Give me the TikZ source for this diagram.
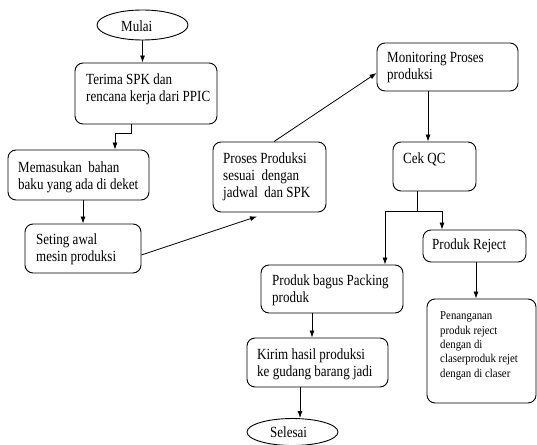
\documentclass[tikz,border=0pt]{standalone}
\usepackage{fontspec}
\setmainfont{Liberation Serif}[FakeStretch=0.84]
\newfontfamily\smallserif{Liberation Serif}[FakeStretch=0.9]
\usetikzlibrary{arrows.meta,calc,shapes.geometric}
\tikzset{
  box/.style={draw, line width=0.9pt, rounded corners=8pt, inner sep=0pt},
  oval/.style={draw, line width=0.9pt, ellipse, inner sep=0pt},
  % multi-line labels sit on the baseline of their last line
  txt/.style={anchor=base west, align=left, inner sep=0pt,
    font=\fontsize{15.5}{17}\selectfont},
  smalltxt/.style={anchor=base west, align=left, inner sep=0pt,
    font=\smallserif\fontsize{12}{14.3}\selectfont},
  arr/.style={line width=0.8pt, -{Latex[length=7pt,width=5pt]}},
  ln/.style={line width=0.8pt}
}
\begin{document}
\begin{tikzpicture}[x=1pt,y=-1pt]
\useasboundingbox (0,0) rectangle (537,444);

% shapes
\node[oval, minimum width=91pt, minimum height=30pt] (mulai) at (142.5,25) {};
\node[box, minimum width=142pt, minimum height=61pt] (terima) at (146,93.5) {};
\node[box, minimum width=141pt, minimum height=50pt] (memasukan) at (78.5,175) {};
\node[box, minimum width=116pt, minimum height=49pt] (seting) at (83,248.5) {};
\node[box, minimum width=113pt, minimum height=70pt] (proses) at (269.5,177) {};
\node[box, minimum width=141pt, minimum height=48pt] (monitoring) at (447.5,67) {};
\node[box, minimum width=83pt, minimum height=49pt] (cekqc) at (434.5,166.5) {};
\node[box, minimum width=103pt, minimum height=32pt] (reject) at (474.5,246) {};
\node[box, minimum width=109pt, minimum height=104pt] (penanganan) at (481.5,351) {};
\node[box, minimum width=142pt, minimum height=48pt] (bagus) at (332,289) {};
\node[box, minimum width=141pt, minimum height=49pt] (kirim) at (317.5,362.5) {};
\node[oval, minimum width=91pt, minimum height=27pt] (selesai) at (292.5,432) {};

% labels
\node[txt] (mulaiT) at (121,32) {Mulai};
\node[txt] (terimaT) at (86,101) {Terima SPK dan\\rencana kerja dari PPIC};
\node[txt] (memasukanT) at (18,189.5) {Memasukan~ bahan\\baku yang ada di deket};
\node[txt] (setingT) at (36,261.5) {Seting awal\\mesin produksi};
\node[txt] (prosesT) at (223,197.5) {Proses Produksi\\sesuai~ dengan\\jadwal~ dan SPK};
\node[txt] (monitoringT) at (387,79) {Monitoring Proses\\produksi};
\node[txt] (cekqcT) at (403,163) {Cek QC};
\node[txt] (rejectT) at (432,249) {Produk Reject};
\node[txt] (bagusT) at (272,302) {Produk bagus Packing\\produk};
\node[txt] (kirimT) at (257,376.5) {Kirim hasil produksi\\ke gudang barang jadi};
\node[smalltxt] (penangananT) at (440,377) {Penanganan\\produk reject\\dengan di\\claserproduk rejet\\dengan di claser};
\node[txt] (selesaiT) at (270,437) {Selesai};

% connectors
\coordinate (split) at (417,211);
\draw[arr] (mulai.south) -- (mulai.south |- terima.north);
\draw[arr] ([xshift=-15pt]terima.south) -- ++(0,9) -| ([xshift=36.5pt]memasukan.north);
\draw[arr] (seting.north |- memasukan.south) -- (seting.north);
\draw[arr] ([yshift=-6.5pt]seting.east) -- ([xshift=-12.5pt,yshift=-4pt]proses.south);
\draw[arr] ([xshift=4.5pt]proses.north) -- ([yshift=-6pt]monitoring.west);
\draw[arr] ([xshift=-19.5pt]monitoring.south) -- ([xshift=-19.5pt]monitoring.south |- cekqc.north);
\draw[ln] ([xshift=-17.5pt]cekqc.south) -- (split);
\draw[arr] (split) -| ([xshift=-32.5pt]reject.north);
\draw[arr] (split) -| ([xshift=53pt]bagus.north);
\draw[arr] ([xshift=1.5pt]reject.south) -- ([xshift=1.5pt]reject.south |- penanganan.north);
\draw[arr] ([xshift=-20pt]bagus.south) -- ([xshift=-20pt]bagus.south |- kirim.north);
\draw[arr] ([xshift=-17.5pt]kirim.south) -- ([xshift=-17.5pt]kirim.south |- selesai.north);
\end{tikzpicture}
\end{document}
